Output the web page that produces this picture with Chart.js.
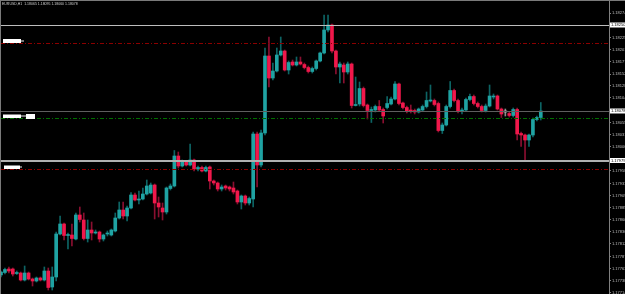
<!DOCTYPE html>
<html><head><meta charset="utf-8">
<script src="https://cdn.jsdelivr.net/npm/chart.js@4.4.1/dist/chart.umd.min.js"></script>
<style>
html,body{margin:0;padding:0;background:#000;width:625px;height:294px;overflow:hidden;}
#frame{position:absolute;left:0;top:0;width:624px;height:293px;border-top:1px solid #7a7a7a;border-left:1px solid #7a7a7a;}
canvas{display:block;}
</style></head><body>
<div id="frame"><canvas id="c" width="624" height="293"></canvas></div>
<script>
const titleText = "EURUSD,H1  1.18065 1.18095 1.18060 1.18078";

const open = [1.17750,1.17755,1.17762,1.17762,1.17753,1.17754,1.17740,1.17754,1.17742,1.17738,
 1.17744,1.17740,1.17758,1.17726,1.17746,1.17832,1.17852,1.17829,1.17830,1.17822,
 1.17870,1.17860,1.17823,1.17840,1.17834,1.17836,1.17822,1.17832,1.17830,1.17838,
 1.17864,1.17880,1.17868,1.17884,1.17910,1.17900,1.17902,1.17912,1.17914,1.17930,
 1.17894,1.17884,1.17876,1.17923,1.17928,1.17988,1.17968,1.17976,1.17970,1.17980,
 1.17962,1.17965,1.17958,1.17966,1.17938,1.17934,1.17922,1.17928,1.17926,1.17924,
 1.17918,1.17896,1.17908,1.17894,1.17902,1.18032,1.17970,1.18034,1.18188,1.18144,
 1.18158,1.18190,1.18198,1.18160,1.18176,1.18170,1.18176,1.18171,1.18165,1.18157,
 1.18163,1.18178,1.18194,1.18240,1.18250,1.18198,1.18166,1.18170,1.18156,1.18172,
 1.18089,1.18092,1.18123,1.18090,1.18079,1.18080,1.18087,1.18081,1.18085,1.18092,
 1.18102,1.18132,1.18094,1.18085,1.18080,1.18079,1.18076,1.18080,1.18087,1.18098,
 1.18099,1.18093,1.18039,1.18050,1.18087,1.18119,1.18099,1.18078,1.18080,1.18101,
 1.18107,1.18093,1.18087,1.18079,1.18088,1.18106,1.18108,1.18082,1.18076,1.18073,
 1.18069,1.18081,1.18033,1.18030,1.18020,1.18030,1.18061,1.18065];

const close = [1.17756,1.17761,1.17758,1.17752,1.17755,1.17740,1.17754,1.17742,1.17738,1.17744,
 1.17740,1.17758,1.17725,1.17746,1.17832,1.17852,1.17829,1.17831,1.17823,1.17870,
 1.17861,1.17823,1.17840,1.17834,1.17836,1.17822,1.17830,1.17834,1.17840,1.17864,
 1.17880,1.17868,1.17884,1.17910,1.17900,1.17902,1.17912,1.17928,1.17930,1.17894,
 1.17886,1.17876,1.17924,1.17928,1.17988,1.17968,1.17976,1.17970,1.17980,1.17962,
 1.17965,1.17958,1.17965,1.17938,1.17934,1.17922,1.17926,1.17924,1.17922,1.17916,
 1.17896,1.17908,1.17894,1.17903,1.18032,1.17970,1.18034,1.18188,1.18144,1.18158,
 1.18190,1.18198,1.18160,1.18175,1.18170,1.18176,1.18172,1.18165,1.18157,1.18163,
 1.18178,1.18194,1.18240,1.18250,1.18198,1.18166,1.18172,1.18156,1.18172,1.18089,
 1.18091,1.18123,1.18089,1.18079,1.18081,1.18087,1.18080,1.18068,1.18093,1.18102,
 1.18132,1.18093,1.18085,1.18077,1.18077,1.18076,1.18082,1.18087,1.18099,1.18100,
 1.18091,1.18039,1.18050,1.18087,1.18119,1.18099,1.18078,1.18080,1.18101,1.18107,
 1.18093,1.18087,1.18079,1.18088,1.18108,1.18108,1.18082,1.18072,1.18076,1.18069,
 1.18081,1.18032,1.18030,1.18020,1.18030,1.18061,1.18065,1.18078];

const high = [1.17758,1.17764,1.17766,1.17764,1.17758,1.17756,1.17768,1.17756,1.17744,1.17746,
 1.17746,1.17766,1.17764,1.17766,1.17836,1.17868,1.17854,1.17834,1.17852,1.17874,
 1.17886,1.17874,1.17860,1.17856,1.17840,1.17838,1.17832,1.17838,1.17842,1.17874,
 1.17896,1.17896,1.17888,1.17915,1.17914,1.17918,1.17924,1.17940,1.17934,1.17932,
 1.17906,1.17894,1.17926,1.17932,1.17999,1.17996,1.17980,1.17978,1.18012,1.17982,
 1.17968,1.17968,1.17968,1.17968,1.17940,1.17936,1.17930,1.17930,1.17928,1.17936,
 1.17920,1.17910,1.17910,1.17906,1.18036,1.18036,1.18040,1.18204,1.18226,1.18174,
 1.18204,1.18226,1.18200,1.18178,1.18180,1.18186,1.18186,1.18174,1.18168,1.18166,
 1.18180,1.18196,1.18270,1.18270,1.18252,1.18200,1.18176,1.18174,1.18176,1.18174,
 1.18146,1.18136,1.18126,1.18092,1.18086,1.18090,1.18099,1.18084,1.18107,1.18106,
 1.18137,1.18134,1.18096,1.18088,1.18090,1.18082,1.18084,1.18090,1.18116,1.18130,
 1.18102,1.18096,1.18054,1.18090,1.18137,1.18122,1.18102,1.18084,1.18104,1.18112,
 1.18110,1.18096,1.18090,1.18092,1.18130,1.18112,1.18110,1.18084,1.18082,1.18076,
 1.18084,1.18084,1.18036,1.18032,1.18032,1.18064,1.18068,1.18095];

const low = [1.17746,1.17752,1.17754,1.17748,1.17751,1.17738,1.17738,1.17740,1.17728,1.17736,
 1.17738,1.17738,1.17720,1.17720,1.17738,1.17830,1.17820,1.17802,1.17808,1.17820,
 1.17856,1.17820,1.17816,1.17820,1.17832,1.17816,1.17818,1.17828,1.17828,1.17836,
 1.17862,1.17862,1.17858,1.17882,1.17898,1.17892,1.17900,1.17910,1.17912,1.17862,
 1.17866,1.17860,1.17872,1.17920,1.17926,1.17964,1.17966,1.17968,1.17968,1.17958,
 1.17958,1.17956,1.17956,1.17922,1.17930,1.17918,1.17918,1.17920,1.17918,1.17912,
 1.17892,1.17882,1.17890,1.17890,1.17886,1.17926,1.17966,1.18030,1.18126,1.18140,
 1.18156,1.18188,1.18158,1.18152,1.18168,1.18168,1.18170,1.18162,1.18154,1.18154,
 1.18160,1.18176,1.18192,1.18236,1.18194,1.18152,1.18134,1.18134,1.18152,1.18084,
 1.18088,1.18088,1.18086,1.18062,1.18055,1.18076,1.18078,1.18054,1.18082,1.18090,
 1.18100,1.18090,1.18082,1.18074,1.18074,1.18072,1.18074,1.18078,1.18084,1.18096,
 1.18088,1.18036,1.18033,1.18048,1.18084,1.18096,1.18074,1.18072,1.18078,1.18098,
 1.18090,1.18084,1.18076,1.18076,1.18086,1.18102,1.18080,1.18065,1.18068,1.18066,
 1.18066,1.18020,1.18007,1.17980,1.18007,1.18026,1.18058,1.18060];

const tickValues = [1.18274,1.18225,1.18201,1.18177,1.18152,1.18128,1.18104,1.18055,
 1.18031,1.18006,1.17958,1.17933,1.17909,1.17885,1.17860,1.17836,1.17812,1.17787,1.17763,
 1.17738,1.17714];

const levelPrices = [1.18250, 1.18078, 1.17979];
const dashedPrices = [1.18214, 1.18064, 1.17962];

const TEAL = '#1fa3a3', RED = '#f0184b', DOJI = '#c8c8c8';
const TEAL_WICK = '#0d6464', RED_WICK = '#8a0f30';

const bodyColor = c => {
  const i = c.dataIndex;
  return close[i] > open[i] ? TEAL : (close[i] < open[i] ? RED : DOJI);
};
const wickColor = c => {
  const i = c.dataIndex;
  return close[i] > open[i] ? TEAL_WICK : (close[i] < open[i] ? RED_WICK : '#8a8a8a');
};

const levelsPlugin = {
  id: 'levels',
  afterDatasetsDraw(chart) {
    const {ctx, chartArea: a, scales: {y}} = chart;
    ctx.save();
    // dash-dot lines
    const dashColors = ['#8b0000', '#006f00', '#8b0000'];
    dashedPrices.forEach((p, i) => {
      const py = Math.round(y.getPixelForValue(p)) + 0.5;
      ctx.strokeStyle = dashColors[i];
      ctx.lineWidth = 1;
      ctx.setLineDash([4, 2, 1, 2]);
      ctx.beginPath(); ctx.moveTo(a.left, py); ctx.lineTo(a.right, py); ctx.stroke();
    });
    ctx.setLineDash([]);
    // solid lines
    const solidColors = ['#bdbdbd', '#5e5e5e', '#b0b0b0'];
    const solidWidths = [1, 1, 2];
    levelPrices.forEach((p, i) => {
      const w = solidWidths[i];
      const py = Math.round(y.getPixelForValue(p)) + (w % 2 ? 0.5 : 0);
      ctx.strokeStyle = solidColors[i];
      ctx.lineWidth = w;
      ctx.beginPath(); ctx.moveTo(a.left, py); ctx.lineTo(a.right, py); ctx.stroke();
    });
    // left tags of dashed lines
    ctx.fillStyle = '#ffffff';
    dashedPrices.forEach((p, i) => {
      const py = Math.round(y.getPixelForValue(p));
      if (i === 0) { ctx.fillRect(a.left + 2, py - 4, 18, 4); ctx.fillStyle = '#777'; ctx.fillRect(a.left + 20, py - 3, 3, 2); ctx.fillStyle = '#fff'; }
      if (i === 1) { ctx.fillRect(a.left + 2, py - 3.5, 18, 3.5); ctx.fillStyle = '#777'; ctx.fillRect(a.left + 20, py - 3, 5, 2); ctx.fillStyle = '#fff'; ctx.fillRect(a.left + 25, py - 4, 9, 5); }
      if (i === 2) { ctx.fillRect(a.left + 3, py - 3.5, 16, 3.5); ctx.fillStyle = '#777'; ctx.fillRect(a.left + 19, py - 3, 2, 2); ctx.fillStyle = '#fff'; }
    });
    ctx.restore();
  },
  afterDraw(chart) {
    const {ctx, chartArea: a, scales: {y}} = chart;
    ctx.save();
    // price boxes on the right axis
    levelPrices.forEach(p => {
      const py = y.getPixelForValue(p);
      ctx.fillStyle = '#ffffff';
      ctx.fillRect(a.right + 1, py - 2.5, chart.width - a.right - 1, 5);
      ctx.fillStyle = '#000000';
      ctx.font = '4px "Liberation Sans"';
      ctx.textBaseline = 'middle';
      ctx.textAlign = 'left';
      ctx.fillText(p.toFixed(5), a.right + 2, py);
    });
    // title
    ctx.fillStyle = '#cfcfcf';
    ctx.font = '3.5px "Liberation Sans"';
    ctx.textBaseline = 'top';
    ctx.textAlign = 'left';
    ctx.fillText(titleText, 1, 0.8);
    ctx.restore();
  }
};

new Chart(document.getElementById('c'), {
  type: 'bar',
  data: {
    datasets: [
      { label: 'body', data: open.map((o, i) => ({x: i, y: [o, close[i]]})),
        backgroundColor: bodyColor, barThickness: 3, minBarLength: 1, grouped: false, order: 0, borderWidth: 0 },
      { label: 'wick', data: high.map((h, i) => ({x: i, y: [low[i], h]})),
        backgroundColor: wickColor, barThickness: 1, grouped: false, order: 1, borderWidth: 0 }
    ]
  },
  options: {
    responsive: false, animation: false, devicePixelRatio: 1,
    layout: {padding: 0},
    plugins: {legend: {display: false}, tooltip: {enabled: false}},
    scales: {
      x: {type: 'linear', min: 0, max: 154.31, display: false, offset: false, grid: {display: false, offset: false}},
      y: {
        position: 'right', min: 1.17712, max: 1.18298,
        grid: {display: true, drawOnChartArea: false, tickLength: 2, color: '#808080'},
        border: {display: true, color: '#808080'},
        ticks: {color: '#bdbdbd', font: {family: 'Liberation Sans', size: 4}, padding: 1, autoSkip: false,
          callback: v => Number(v).toFixed(5)},
        afterBuildTicks: s => { s.ticks = tickValues.map(v => ({value: v})); },
        afterFit: s => { s.width = 16; s.paddingTop = 0; s.paddingBottom = 0; }
      }
    }
  },
  plugins: [levelsPlugin]
});
</script>
</body></html>
